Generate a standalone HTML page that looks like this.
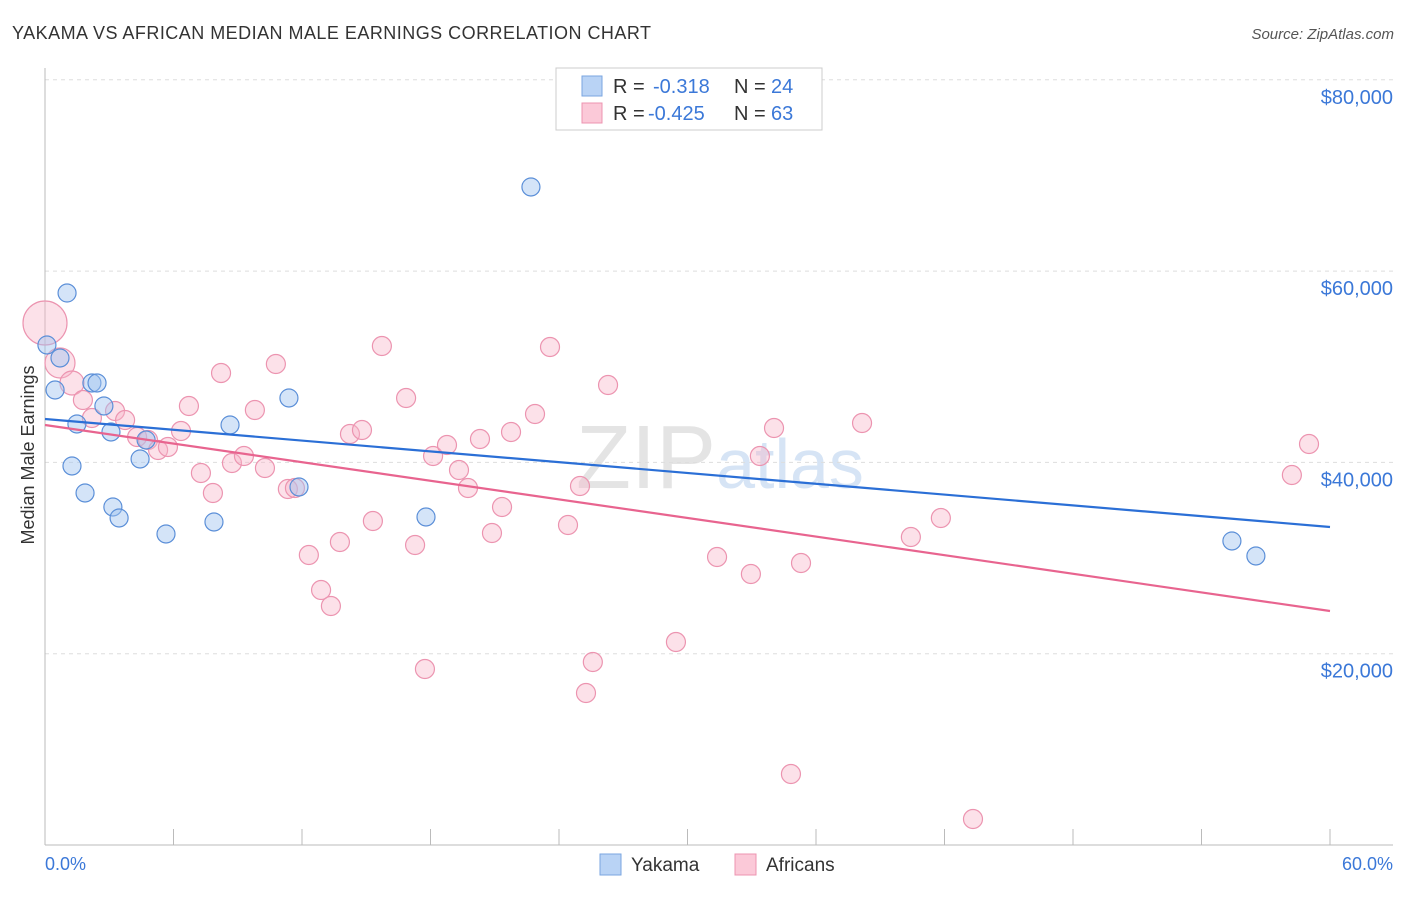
<!DOCTYPE html>
<html><head><meta charset="utf-8"><style>
body{margin:0;background:#fff;font-family:"Liberation Sans",sans-serif;}
svg text{font-family:"Liberation Sans",sans-serif;}
</style></head><body>
<svg id="c" width="1406" height="892">
<text x="12" y="39" font-size="18" fill="#333" textLength="639">YAKAMA VS AFRICAN MEDIAN MALE EARNINGS CORRELATION CHART</text>
<text x="1394" y="39" font-size="15" fill="#555" text-anchor="end" font-style="italic">Source: ZipAtlas.com</text>
<text x="720" y="488" font-size="90" fill="#e4e4e4" text-anchor="middle" font-family="Liberation Serif">ZIP<tspan fill="#d6e4f5" font-family="Liberation Sans" font-size="70">atlas</tspan></text>
<g id="grid"></g><g id="pts"></g><g id="lines"></g>
<text transform="translate(34,455) rotate(-90)" font-size="18" fill="#333" text-anchor="middle">Median Male Earnings</text>
<text x="45" y="870" font-size="18" fill="#3b78d8">0.0%</text>
<text x="1393" y="870" font-size="18" fill="#3b78d8" text-anchor="end">60.0%</text>
<g>
<rect x="556" y="68" width="266" height="62" fill="#fff" stroke="#ccc"/>
<rect x="582" y="76" width="20" height="20" fill="#b9d3f5" stroke="#7aa6e0"/>
<rect x="582" y="103" width="20" height="20" fill="#fbc9d8" stroke="#ec94b0"/>
<text x="613" y="93" font-size="20" fill="#333">R = <tspan x="653" fill="#3b78d8">-0.318</tspan><tspan x="734">N = </tspan><tspan x="771" fill="#3b78d8">24</tspan></text>
<text x="613" y="120" font-size="20" fill="#333">R = <tspan x="648" fill="#3b78d8">-0.425</tspan><tspan x="734">N = </tspan><tspan x="771" fill="#3b78d8">63</tspan></text>
</g>
<g>
<rect x="600" y="854" width="21" height="21" fill="#b9d3f5" stroke="#7aa6e0"/>
<text x="631" y="871" font-size="19" fill="#333">Yakama</text>
<rect x="735" y="854" width="21" height="21" fill="#fbc9d8" stroke="#ec94b0"/>
<text x="766" y="871" font-size="19" fill="#333">Africans</text>
</g>
</svg>
<script>
const yTicks=[20000,40000,60000,80000];
const yTickLabels=["$20,000","$40,000","$60,000","$80,000"];
const blueX=[1.03,0.09,0.70,0.47,2.19,2.43,1.49,1.26,2.75,3.08,1.87,3.17,3.46,4.44,4.72,5.65,7.89,8.64,11.39,11.86,17.79,22.69,55.42,56.54];
const blueY=[57710,52275,50916,47570,48302,48302,44016,39624,45897,43180,36802,35338,34188,40356,42343,32515,33770,43911,46734,37429,34292,68794,31783,30215];
const pinkX=[0,0.70,1.26,1.77,2.19,3.27,3.74,4.30,4.81,5.28,5.74,6.35,6.72,7.28,7.84,8.22,8.73,9.29,9.80,10.27,10.78,11.34,11.67,12.32,12.89,13.35,13.77,14.24,14.80,15.31,15.73,16.86,17.28,17.74,18.12,18.77,19.33,19.75,20.31,20.87,21.34,21.76,22.88,23.58,24.42,24.98,25.26,25.58,26.29,29.46,31.38,32.96,33.38,34.04,34.83,35.30,38.15,40.43,41.83,43.33,58.22,59.02];
const pinkY=[54575,50393,48302,46525,44643,45375,44434,42656,42343,41297,41611,43284,45897,38893,36802,49348,39938,40670,45479,39415,50289,37220,37324,30320,26660,24988,31679,42970,43389,33874,52170,46734,31365,18401,40670,41820,39206,37324,42447,32620,35338,43180,45061,52066,33456,37533,15892,19133,48093,21224,30110,28333,40670,43598,7423,29483,44120,32201,34188,2718,38684,41925];
const blueTrend=[44538,33247];
const pinkTrend=[43911,24465];
const NS="http://www.w3.org/2000/svg";
const X=v=>45+v/60*1285, Y=v=>845-v/20000*191.3;
function mk(t,a,p){const e=document.createElementNS(NS,t);for(const k in a)e.setAttribute(k,a[k]);p.appendChild(e);return e;}
const g=document.getElementById('grid');
yTicks.forEach((t,i)=>{
 const l=mk('line',{x1:45,x2:1393,y1:Y(t),y2:Y(t),stroke:'#ddd','stroke-dasharray':'4,4'},g);
 
 
 const tx=mk('text',{x:1393,y:Y(t)+24,'font-size':20,fill:'#3b78d8','text-anchor':'end'},g);
 tx.textContent=yTickLabels[i];
 
 
});
const ax=mk('line',{x1:45,x2:1393,y1:845,y2:845,stroke:'#bbb'},g);


const ay=mk('line',{x1:45,x2:45,y1:68,y2:845,stroke:'#bbb'},g);


for(let i=0;i<=10;i++){const t=mk('line',{x1:X(i*6),x2:X(i*6),y1:829,y2:845,stroke:'#bbb'},g);
 
 }
const p=document.getElementById('pts');
pinkX.forEach((x,i)=>{const r=i==0?22:(i==1?15:(i==2?12:9.5));
 const c=mk('circle',{cx:X(x),cy:Y(pinkY[i]),r:r,fill:'rgba(248,180,200,0.4)',stroke:'#ec94b0','stroke-width':1.2},p);
 
 });
blueX.forEach((x,i)=>{
 const c=mk('circle',{cx:X(x),cy:Y(blueY[i]),r:9,fill:'rgba(160,195,240,0.45)',stroke:'#5b8fd8','stroke-width':1.2},p);
 
 });
const L=document.getElementById('lines');
const b=mk('line',{x1:X(0),y1:Y(blueTrend[0]),x2:X(60),y2:Y(blueTrend[1]),stroke:'#2b6fd6','stroke-width':2.2},L);


const pk=mk('line',{x1:X(0),y1:Y(pinkTrend[0]),x2:X(60),y2:Y(pinkTrend[1]),stroke:'#e8648f','stroke-width':2.2},L);


</script>
</body></html>
